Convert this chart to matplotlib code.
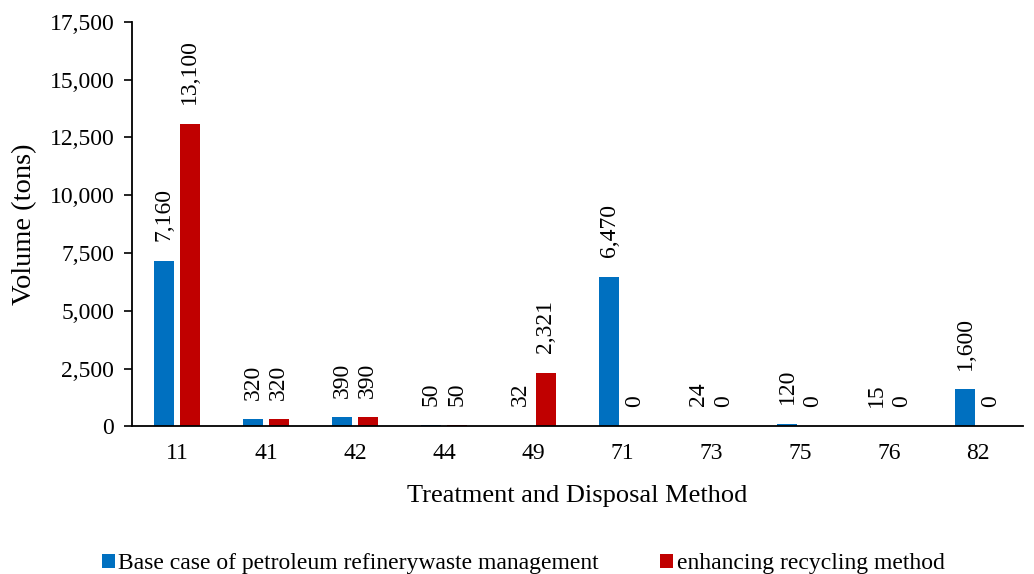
import matplotlib.pyplot as plt
import numpy as np

plt.rcParams['font.family'] = ['Liberation Serif', 'DejaVu Serif']

methods = ['11', '41', '42', '44', '49', '71', '73', '75', '76', '82']
base_case = [7160, 320, 390, 50, 32, 6470, 24, 120, 15, 1600]
recycling = [13100, 320, 390, 50, 2321, 0, 0, 0, 0, 0]

blue = '#0070C0'
red = '#C00000'

fig = plt.figure(figsize=(10.34, 5.74), dpi=100)
ax = fig.add_axes([0.128, 0.257, 0.861, 0.705])

x = np.arange(len(methods))
w = 0.225
off = 0.143
b1 = ax.bar(x - off, base_case, w, color=blue,
            label='Base case of petroleum refinerywaste management')
b2 = ax.bar(x + off, recycling, w, color=red,
            label='enhancing recycling method')

# rotated value labels above each bar
for bars, vals in ((b1, base_case), (b2, recycling)):
    for rect, v in zip(bars, vals):
        ax.annotate(f'{v:,}', (rect.get_x() + rect.get_width() / 2, v),
                    xytext=(0, 14), textcoords='offset points',
                    rotation=90, ha='center', va='bottom', fontsize=17)

ax.set_xlim(-0.5, len(methods) - 0.5)
ax.set_ylim(0, 17500)
ax.set_yticks(np.arange(0, 17501, 2500))
ax.yaxis.set_major_formatter(plt.FuncFormatter(lambda v, p: f'{int(v):,}'))
ax.set_xticks(x)
ax.set_xticklabels(methods)
ax.tick_params(axis='x', length=0, pad=12, labelsize=17)
ax.tick_params(axis='y', length=6, width=1.2, labelsize=17, direction='out', pad=7)
for s in ('top', 'right'):
    ax.spines[s].set_visible(False)
for s in ('left', 'bottom'):
    ax.spines[s].set_linewidth(1.3)

ax.set_xlabel('Treatment and Disposal Method', fontsize=19, labelpad=15)
ax.set_ylabel('Volume (tons)', fontsize=20.5, labelpad=9)

fig.legend(handles=[b1, b2], loc='lower center', bbox_to_anchor=(0.506, -0.037),
           ncol=2, frameon=False, fontsize=17, handlelength=0.55,
           handleheight=0.55, handletextpad=0.15, columnspacing=2.6)

fig.savefig('out.png', dpi=100)
